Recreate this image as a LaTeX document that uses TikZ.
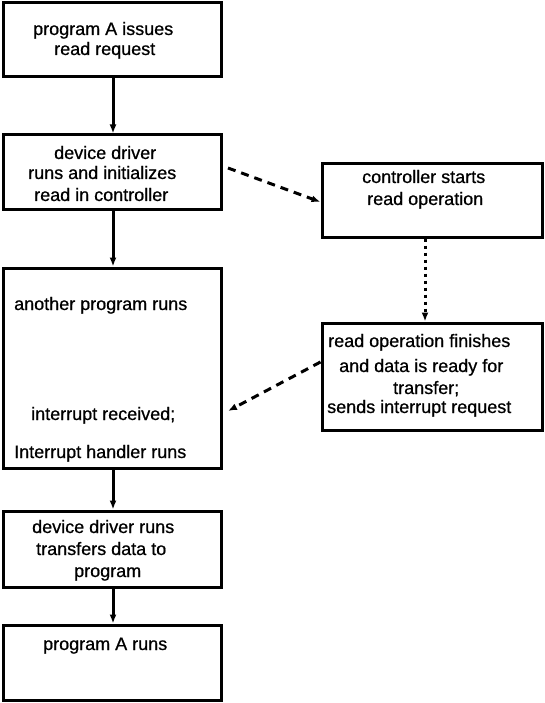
\documentclass[tikz,border=0pt]{standalone}
\usepackage{fontspec}
\setmainfont[FakeBold=0.7]{Liberation Sans}
\usetikzlibrary{arrows.meta,calc}
\begin{document}
\begin{tikzpicture}[x=1pt,y=-1pt,
  box/.style={draw=black,line width=3pt,rectangle,inner sep=0pt},
  txt/.style={inner sep=0pt,anchor=base west,font=\fontsize{18}{21}\selectfont},
  arr/.style={line width=3pt,-{Latex[length=9pt,width=7pt]}},
  dasharr/.style={arr,dash pattern=on 8pt off 6pt},
  dotarr/.style={line width=3pt,dash pattern=on 3pt off 4pt,-{Latex[length=9pt,width=7pt]}}]
\useasboundingbox (0,0) rectangle (545,703);
% left column boxes
\node[box,minimum width=218pt,minimum height=74pt] (b1) at (112,40) {};
\node[box,minimum width=218pt,minimum height=75pt] (b2) at (112,172.5) {};
\node[box,minimum width=218pt,minimum height=200pt] (b3) at (112,368) {};
\node[box,minimum width=218pt,minimum height=76pt] (b4) at (112,549) {};
\node[box,minimum width=218pt,minimum height=75pt] (b5) at (112,662.5) {};
% right column boxes
\node[box,minimum width=220pt,minimum height=73pt] (r1) at (432,200.5) {};
\node[box,minimum width=220pt,minimum height=107pt] (r2) at (432,376.5) {};
% texts
\node[txt] (t1a) at (33,35) {program A issues};
\node[txt] (t1b) at (54,55) {read request};
\node[txt] (t2a) at (54,159) {device driver};
\node[txt] (t2b) at (28,179) {runs and initializes};
\node[txt] (t2c) at (34,201) {read in controller};
\node[txt] (t3a) at (14,310) {another program runs};
\node[txt] (t3b) at (31,420) {interrupt received;};
\node[txt] (t3c) at (14,458) {Interrupt handler runs};
\node[txt] (t4a) at (32,533) {device driver runs};
\node[txt] (t4b) at (36,555) {transfers data to};
\node[txt] (t4c) at (74,577) {program};
\node[txt] (t5a) at (43,650) {program A runs};
\node[txt] (r1a) at (362,183) {controller starts};
\node[txt] (r1b) at (367,205) {read operation};
\node[txt] (r2a) at (328,347) {read operation finishes};
\node[txt] (r2b) at (339,372) {and data is ready for};
\node[txt] (r2c) at (393,394) {transfer;};
\node[txt] (r2d) at (327,413) {sends interrupt request};
% free ends
\coordinate (d1s) at (228,168);
\coordinate (d2e) at (228,411);
% connectors
\draw[arr] ($(b1.south)+(1,0)$) -- ($(b2.north)+(1,0)$);
\draw[arr] ($(b2.south)+(1,0)$) -- ($(b3.north)+(1,0)$);
\draw[arr] ($(b3.south)+(1,0)$) -- ($(b4.north)+(1,0)$);
\draw[arr] ($(b4.south)+(1,0)$) -- ($(b5.north)+(1,0)$);
\draw[dasharr] (d1s) -- ($(r1.west)+(0,1.5)$);
\draw[dotarr] ($(r1.south)+(-7,0)$) -- ($(r2.north)+(-7,0)$);
\draw[dasharr] ($(r2.west)+(0,-14.5)$) -- (d2e);
\end{tikzpicture}
\end{document}
